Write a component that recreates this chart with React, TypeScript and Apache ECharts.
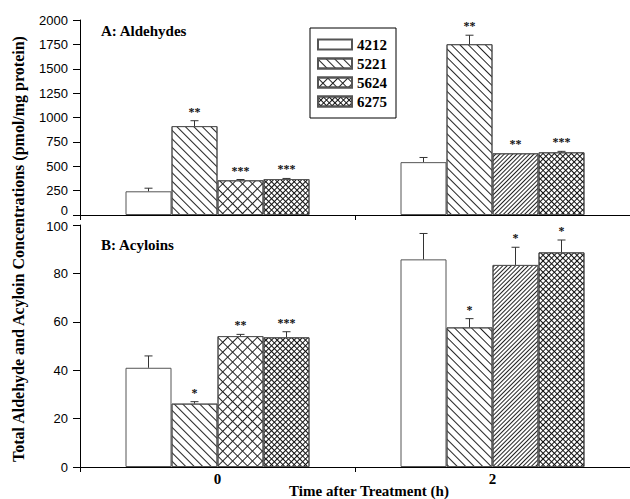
import React, { useEffect, useRef } from "react";
import * as echarts from "echarts";

const categories = ["0", "2"];
const seriesNames = ["4212", "5221", "5624", "6275"];

// Panel A: Aldehydes (pmol/mg protein)
const ald4212 = [243, 542];
const ald5221 = [912, 1752];
const ald5624 = [356, 633];
const ald6275 = [369, 643];
const aldErr4212 = [32, 48];
const aldErr5221 = [55, 92];
const aldErr5624 = [8, 0];
const aldErr6275 = [6, 10];
const aldSig4212 = ["", ""];
const aldSig5221 = ["**", "**"];
const aldSig5624 = ["***", "**"];
const aldSig6275 = ["***", "***"];

// Panel B: Acyloins
const acy4212 = [41, 85.8];
const acy5221 = [26.2, 57.7];
const acy5624 = [54.1, 83.5];
const acy6275 = [53.6, 88.7];
const acyErr4212 = [4.9, 10.7];
const acyErr5221 = [0.8, 3.6];
const acyErr5624 = [0.7, 7.3];
const acyErr6275 = [2.3, 5.1];
const acySig4212 = ["", ""];
const acySig5221 = ["*", "*"];
const acySig5624 = ["**", "*"];
const acySig6275 = ["***", "*"];

const aldTicks = { min: 0, max: 2000, interval: 250 };
const acyTicks = { min: 0, max: 100, interval: 20 };

const BAR_W = 46;
const SERIF = "'Liberation Serif', 'Times New Roman', serif";
const SANS = "'Liberation Sans', Arial, sans-serif";

const decalWide = {
  symbol: "rect", symbolSize: 1, symbolKeepAspect: false, color: "#222", backgroundColor: "rgba(0,0,0,0)",
  dashArrayX: [1, 0], dashArrayY: [1, 5], rotation: Math.PI / 4,
};
const decalDenseFwd = {
  symbol: "rect", symbolSize: 1, symbolKeepAspect: false, color: "#222", backgroundColor: "rgba(0,0,0,0)",
  dashArrayX: [1, 0], dashArrayY: [1, 2], rotation: -Math.PI / 4,
};
const decalCross = {
  symbol: "rect", symbolSize: 1, symbolKeepAspect: false, color: "#222", backgroundColor: "rgba(0,0,0,0)",
  dashArrayX: [[1, 0], [1, 6]], dashArrayY: [1, 0, 6, 0], rotation: Math.PI / 4,
};
const decalDenseCross = {
  symbol: "rect", symbolSize: 1, symbolKeepAspect: false, color: "#111", backgroundColor: "rgba(0,0,0,0)",
  dashArrayX: [[1, 0], [1, 3]], dashArrayY: [1, 0, 3, 0], rotation: Math.PI / 4,
};

const seriesDecals: any[] = [null, decalWide, decalCross, decalDenseCross];
// per-category overrides (time 2 for 5624 uses dense forward hatch)
const catDecals: any[][] = [
  [null, null],
  [decalWide, decalWide],
  [decalCross, decalDenseFwd],
  [decalDenseCross, decalDenseCross],
];

function barSeries(gi: number, vals: number[][]) {
  return vals.map((arr, s) => ({
    name: seriesNames[s],
    type: "bar",
    xAxisIndex: gi,
    yAxisIndex: gi,
    barWidth: BAR_W,
    barGap: "0%",
    itemStyle: {
      color: "#fff",
      borderColor: "#555",
      borderWidth: 1,
      ...(seriesDecals[s] ? { decal: seriesDecals[s] } : {}),
    },
    data: arr.map((v, c) => ({
      value: v,
      itemStyle: catDecals[s][c] ? { decal: catDecals[s][c] } : {},
    })),
  }));
}

function errorSeries(gi: number, vals: number[][], errs: number[][], sigs: string[][]) {
  const data: number[][] = [];
  const labels: string[] = [];
  for (let s = 0; s < vals.length; s++) {
    for (let c = 0; c < categories.length; c++) {
      data.push([c, vals[s][c], errs[s][c], s]);
      labels.push(sigs[s][c]);
    }
  }
  return {
    type: "custom",
    xAxisIndex: gi,
    yAxisIndex: gi,
    z: 10,
    silent: true,
    data,
    encode: { x: 0, y: 1 },
    renderItem: (params: any, api: any) => {
      const c = api.value(0);
      const v = api.value(1);
      const e = api.value(2);
      const s = api.value(3);
      const base = api.coord([c, v]);
      const top = api.coord([c, v + e]);
      const x = base[0] + (s - 1.5) * BAR_W;
      const children: any[] = [];
      if (e > 0) {
        children.push({
          type: "line",
          shape: { x1: x, y1: base[1], x2: x, y2: top[1] },
          style: { stroke: "#333", lineWidth: 1 },
        });
        children.push({
          type: "line",
          shape: { x1: x - 4, y1: top[1], x2: x + 4, y2: top[1] },
          style: { stroke: "#333", lineWidth: 1 },
        });
      }
      const lab = labels[params.dataIndex];
      if (lab) {
        children.push({
          type: "text",
          style: {
            x, y: top[1] - 9, text: lab, align: "center", verticalAlign: "middle",
            font: `bold 12px ${SERIF}`, fill: "#111",
          },
        });
      }
      return { type: "group", children };
    },
  };
}

export default function App() {
  const ref = useRef<HTMLDivElement>(null);
  useEffect(() => {
    document.body.style.margin = "0";
    if (!ref.current) return;
    const chart = echarts.init(ref.current, undefined, { renderer: "svg" });
    const xAxisBase = {
      type: "category",
      data: categories,
      axisLine: { lineStyle: { color: "#000", width: 1 } },
      axisTick: { show: true, alignWithLabel: false, length: 5, lineStyle: { color: "#000" } },
      splitLine: { show: false },
    };
    const yAxisBase = {
      type: "value",
      axisLine: { show: true, lineStyle: { color: "#000", width: 1 } },
      axisTick: { show: true, length: 7, lineStyle: { color: "#000" } },
      splitLine: { show: false },
    };
    const labelBase = { color: "#000", fontFamily: SANS, fontSize: 13, margin: 12, lineHeight: 11 };
    chart.setOption({
      animation: false,
      backgroundColor: "#fff",
      grid: [
        { left: 80, right: 0, top: 20, height: 195 },
        { left: 80, right: 0, top: 225, height: 242 },
      ],
      xAxis: [
        { ...xAxisBase, gridIndex: 0, axisLabel: { show: false } },
        {
          ...xAxisBase, gridIndex: 1,
          axisLabel: { color: "#000", fontFamily: SERIF, fontWeight: "bold", fontSize: 15, margin: 4 },
        },
      ],
      yAxis: [
        {
          ...yAxisBase, gridIndex: 0, ...aldTicks,
          axisLabel: {
            ...labelBase,
            formatter: (v: number) => (v === 0 ? "{lo|0}" : String(v)),
            rich: {
              lo: { color: "#000", fontFamily: SANS, fontSize: 13, lineHeight: 11, padding: [0, 0, 9, 0] },
            },
          },
        },
        {
          ...yAxisBase, gridIndex: 1, ...acyTicks,
          axisLabel: {
            ...labelBase,
            formatter: (v: number) => (v === 100 ? "{hi|100}" : String(v)),
            rich: {
              hi: { color: "#000", fontFamily: SANS, fontSize: 13, lineHeight: 11, padding: [3, 0, 0, 0] },
            },
          },
        },
      ],
      legend: {
        data: seriesNames,
        orient: "vertical",
        left: 310,
        top: 28,
        itemWidth: 34,
        itemHeight: 10,
        itemGap: 4,
        icon: "rect",
        selectedMode: false,
        borderColor: "#000",
        borderWidth: 1,
        padding: [9, 9, 9, 7],
        textStyle: { color: "#000", fontFamily: SERIF, fontWeight: "bold", fontSize: 15, lineHeight: 14 },
      },
      graphic: [
        {
          type: "text", left: 101, top: 23,
          style: { text: "A: Aldehydes", font: `bold 15px ${SERIF}`, fill: "#000" },
        },
        {
          type: "text", left: 101, top: 237,
          style: { text: "B: Acyloins", font: `bold 15px ${SERIF}`, fill: "#000" },
        },
        {
          type: "text", x: 18, y: 249, rotation: Math.PI / 2,
          style: {
            text: "Total Aldehyde and Acyloin Concentrations (pmol/mg protein)",
            font: `bold 16px ${SERIF}`, fill: "#000", align: "center", verticalAlign: "middle",
          },
        },
        {
          type: "text", x: 369, y: 491,
          style: {
            text: "Time after Treatment (h)", font: `bold 15px ${SERIF}`, fill: "#000",
            align: "center", verticalAlign: "middle",
          },
        },
      ],
      series: [
        ...barSeries(0, [ald4212, ald5221, ald5624, ald6275]),
        ...barSeries(1, [acy4212, acy5221, acy5624, acy6275]),
        errorSeries(0, [ald4212, ald5221, ald5624, ald6275],
          [aldErr4212, aldErr5221, aldErr5624, aldErr6275],
          [aldSig4212, aldSig5221, aldSig5624, aldSig6275]),
        errorSeries(1, [acy4212, acy5221, acy5624, acy6275],
          [acyErr4212, acyErr5221, acyErr5624, acyErr6275],
          [acySig4212, acySig5221, acySig5624, acySig6275]),
      ],
    });
    return () => chart.dispose();
  }, []);
  return <div ref={ref} style={{ width: 630, height: 499 }} />;
}
